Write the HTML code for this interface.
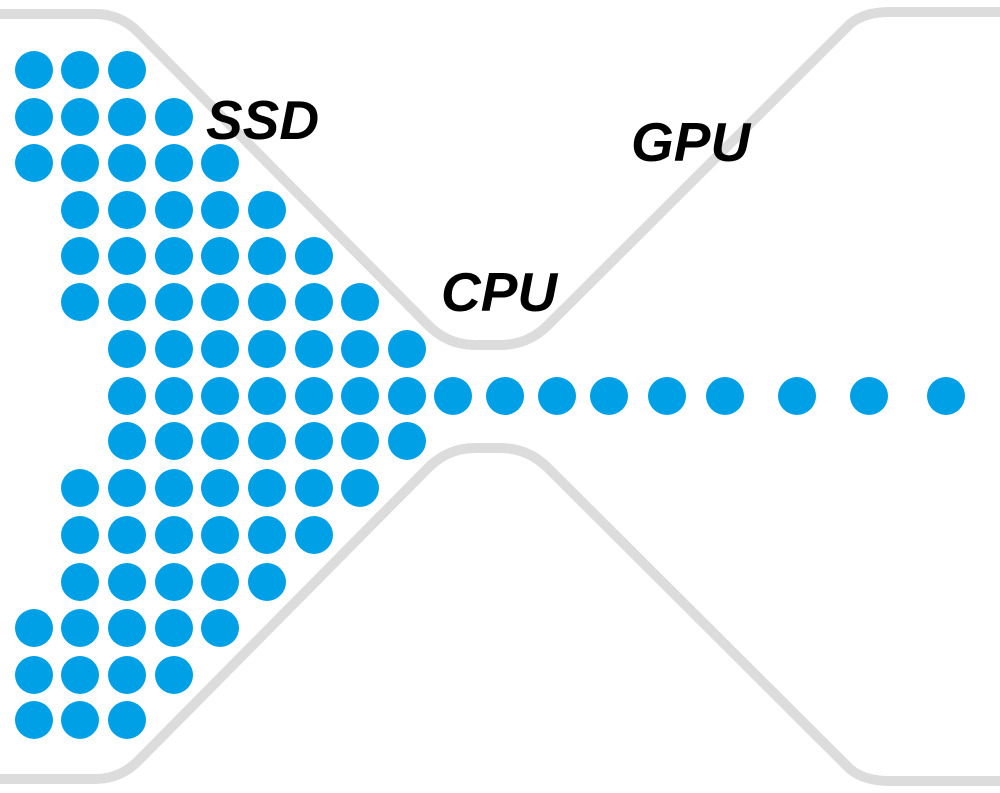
<!DOCTYPE html>
<html><head><style>
html,body{margin:0;padding:0;background:#fff;}
svg{display:block;}
text{font-family:"Liberation Sans",sans-serif;font-weight:bold;font-style:italic;font-size:55px;fill:#000;}
</style></head><body>
<svg width="1000" height="793" viewBox="0 0 1000 793" xmlns="http://www.w3.org/2000/svg">
<g fill="none" stroke="#dcdcdc" stroke-width="10" stroke-linecap="round">
<path d="M0 14 L95 14 Q120 14 138 32 L425 322 Q446 345 475 345 L500 345 Q528 345 548 325 L850 24 Q864 12 890 12 L1000 12"/>
<path d="M0 779 L95 779 Q120 779 138 761 L425 471 Q446 448 475 448 L500 448 Q528 448 548 468 L850 769 Q864 781 890 781 L1000 781"/>
</g>
<g fill="#00a0e6">
<circle cx="34" cy="70" r="19"/><circle cx="80" cy="70" r="19"/><circle cx="127" cy="70" r="19"/>
<circle cx="34" cy="117" r="19"/><circle cx="80" cy="117" r="19"/><circle cx="127" cy="117" r="19"/><circle cx="174" cy="117" r="19"/>
<circle cx="34" cy="163" r="19"/><circle cx="80" cy="163" r="19"/><circle cx="127" cy="163" r="19"/><circle cx="174" cy="163" r="19"/><circle cx="220" cy="163" r="19"/>
<circle cx="80" cy="210" r="19"/><circle cx="127" cy="210" r="19"/><circle cx="174" cy="210" r="19"/><circle cx="220" cy="210" r="19"/><circle cx="267" cy="210" r="19"/>
<circle cx="80" cy="256" r="19"/><circle cx="127" cy="256" r="19"/><circle cx="174" cy="256" r="19"/><circle cx="220" cy="256" r="19"/><circle cx="267" cy="256" r="19"/><circle cx="314" cy="256" r="19"/>
<circle cx="80" cy="302" r="19"/><circle cx="127" cy="302" r="19"/><circle cx="174" cy="302" r="19"/><circle cx="220" cy="302" r="19"/><circle cx="267" cy="302" r="19"/><circle cx="314" cy="302" r="19"/><circle cx="360" cy="302" r="19"/>
<circle cx="127" cy="349" r="19"/><circle cx="174" cy="349" r="19"/><circle cx="220" cy="349" r="19"/><circle cx="267" cy="349" r="19"/><circle cx="314" cy="349" r="19"/><circle cx="360" cy="349" r="19"/><circle cx="407" cy="349" r="19"/>
<circle cx="127" cy="396" r="19"/><circle cx="174" cy="396" r="19"/><circle cx="220" cy="396" r="19"/><circle cx="267" cy="396" r="19"/><circle cx="314" cy="396" r="19"/><circle cx="360" cy="396" r="19"/><circle cx="407" cy="396" r="19"/>
<circle cx="453" cy="396" r="19"/><circle cx="505" cy="396" r="19"/><circle cx="557" cy="396" r="19"/><circle cx="609" cy="396" r="19"/><circle cx="667" cy="396" r="19"/><circle cx="725" cy="396" r="19"/><circle cx="797" cy="396" r="19"/><circle cx="869" cy="396" r="19"/><circle cx="946" cy="396" r="19"/>
<circle cx="127" cy="441" r="19"/><circle cx="174" cy="441" r="19"/><circle cx="220" cy="441" r="19"/><circle cx="267" cy="441" r="19"/><circle cx="314" cy="441" r="19"/><circle cx="360" cy="441" r="19"/><circle cx="407" cy="441" r="19"/>
<circle cx="80" cy="488" r="19"/><circle cx="127" cy="488" r="19"/><circle cx="174" cy="488" r="19"/><circle cx="220" cy="488" r="19"/><circle cx="267" cy="488" r="19"/><circle cx="314" cy="488" r="19"/><circle cx="360" cy="488" r="19"/>
<circle cx="80" cy="535" r="19"/><circle cx="127" cy="535" r="19"/><circle cx="174" cy="535" r="19"/><circle cx="220" cy="535" r="19"/><circle cx="267" cy="535" r="19"/><circle cx="314" cy="535" r="19"/>
<circle cx="80" cy="582" r="19"/><circle cx="127" cy="582" r="19"/><circle cx="174" cy="582" r="19"/><circle cx="220" cy="582" r="19"/><circle cx="267" cy="582" r="19"/>
<circle cx="34" cy="628" r="19"/><circle cx="80" cy="628" r="19"/><circle cx="127" cy="628" r="19"/><circle cx="174" cy="628" r="19"/><circle cx="220" cy="628" r="19"/>
<circle cx="34" cy="675" r="19"/><circle cx="80" cy="675" r="19"/><circle cx="127" cy="675" r="19"/><circle cx="174" cy="675" r="19"/>
<circle cx="34" cy="720" r="19"/><circle cx="80" cy="720" r="19"/><circle cx="127" cy="720" r="19"/>
</g>
<text x="206" y="139">SSD</text>
<text x="631" y="161">GPU</text>
<text x="441" y="311">CPU</text>
</svg>
</body></html>
